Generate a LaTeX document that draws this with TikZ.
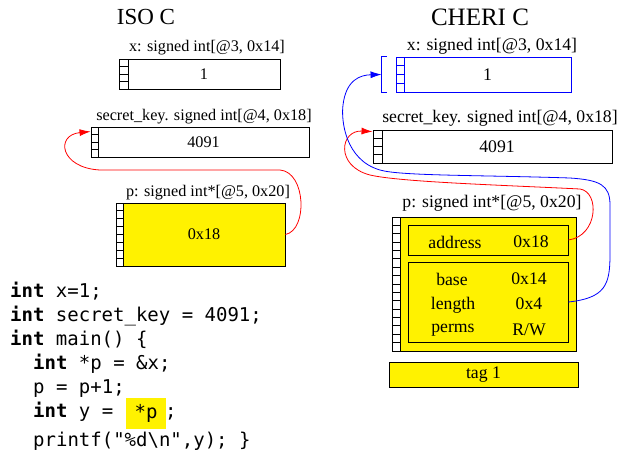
\documentclass[tikz,border=0pt]{standalone}
\usepackage{fontspec}
\setmainfont{Liberation Serif}
\setmonofont{DejaVu Sans Mono}
\usetikzlibrary{arrows.meta}
\newcommand\lblfont{\fontsize{16.2}{19}\selectfont}
\newcommand\lblfontR{\fontsize{17.7}{21}\selectfont}
\newcommand\headfont{\fontsize{23}{27}\selectfont}
\newcommand\headfontR{\fontsize{25}{29}\selectfont}
\newcommand\codefont{\ttfamily\fontsize{19}{23}\selectfont}
\newcommand\memcells[6]{%
  \pgfmathsetmacro\cellh{(#4-#3)/#5}%
  \foreach \i in {1,...,#5}{\draw[#6,fill=white,line width=0.8pt] (#1,{#3+(\i-1)*\cellh}) rectangle (#2,{#3+\i*\cellh});}%
}
\tikzset{
  mem/.style={draw, line width=0.9pt, inner sep=0pt, font=\lblfont},
  memR/.style={mem, font=\lblfontR},
  lbl/.style={font=\lblfont, inner sep=0pt},
  lblR/.style={font=\lblfontR, inner sep=0pt},
  head/.style={font=\headfont, inner sep=0pt},
  code/.style={font=\codefont, inner sep=0pt, anchor=base west},
  hl/.style={fill=yellow, font=\codefont, inner sep=0pt, minimum width=40pt, minimum height=31pt},
  ptr/.style={line width=0.8pt, -{Latex[length=11pt,width=7pt]}},
}
\begin{document}
\begin{tikzpicture}[x=1pt,y=-1pt]
\useasboundingbox (0,0) rectangle (619,453);

% headings
\node[head] (iso) at (146,17) {ISO C};
\node[head, font=\headfontR] (cheri) at (480,17) {CHERI C};

% ---------- ISO C ----------
\node[lbl] (xLl) at (207,48) {x: signed int[@3, 0x14]};
\node[mem, minimum width=161pt, minimum height=30pt] (xL) at (199.5,74) {\hspace*{9pt}1};
\memcells{119}{128}{59}{89}{4}{black}

\node[lbl] (skLl) at (204,117) {secret\_key. signed int[@4, 0x18]};
\node[mem, minimum width=218pt, minimum height=30pt] (skL) at (200,142) {\hspace*{7pt}4091};
\memcells{91}{98}{127}{157}{4}{black}

\node[lbl] (pLl) at (208,193) {p: signed int*[@5, 0x20]};
\node[mem, fill=yellow, minimum width=169pt, minimum height=63pt] (pL) at (200.5,234.5) {\hspace*{7pt}0x18};
\memcells{116}{123}{203}{266}{8}{black}

% ---------- CHERI C ----------
\node[lblR] (xRl) at (492,46) {x: signed int[@3, 0x14]};
\node[memR, draw=blue, minimum width=175pt, minimum height=35pt] (xR) at (483.5,74.5) {\hspace*{8pt}1};
\memcells{396}{404}{57}{92}{4}{blue}
\draw[blue, line width=0.8pt] ([xshift=-9pt]xR.north west) -- ([xshift=-14pt]xR.north west)
  -- ([xshift=-14pt]xR.south west) -- ([xshift=-9pt]xR.south west);

\node[lblR] (skRl) at (500,118) {secret\_key. signed int[@4, 0x18]};
\node[memR, minimum width=239pt, minimum height=33pt] (skR) at (492.5,146.5) {\hspace*{9pt}4091};
\memcells{373}{382}{130}{163}{4}{black}

\node[lblR] (pRl) at (492,203) {p: signed int*[@5, 0x20]};
\node[memR, fill=yellow, minimum width=184pt, minimum height=134pt] (pR) at (484,284) {};
\memcells{392}{400}{217}{351}{16}{black}
\node[memR, minimum width=160pt, minimum height=30pt] (addr) at (488,240) {};
\node[lblR] (addrk) at (455,242) {address};
\node[lblR] (addrv) at (531,242) {0x18};
\node[memR, minimum width=160pt, minimum height=80pt] (meta) at (488,302) {};
\node[lblR] (basek) at (452,279) {base};
\node[lblR] (basev) at (529,279) {0x14};
\node[lblR] (lenk) at (453,305) {length};
\node[lblR] (lenv) at (529,304) {0x4};
\node[lblR] (permk) at (453,330) {perms};
\node[lblR] (permv) at (529,330) {R/W};
\node[memR, fill=yellow, minimum width=189pt, minimum height=25pt] (tag) at (483.5,374.5) {tag 1};

% ---------- arrows ----------
\draw[ptr, red] (pL.east) .. controls (308,230) and (306,172) .. (280,170) -- (100,170)
  .. controls (60,168) and (55,135) .. ([yshift=-5pt]skL.north west);
\draw[ptr, red] (addr.east) .. controls (598,236) and (600,192) .. (580,189)
  .. controls (500,185) and (400,182) .. (370,175)
  .. controls (335,166) and (340,130) .. ([yshift=-2pt]skR.north west);
\draw[ptr, blue] (meta.east) .. controls (605,298) and (610,285) .. (610,255) -- (610,205)
  .. controls (610,185) and (600,180) .. (570,178)
  .. controls (480,175) and (400,176) .. (380,170)
  .. controls (345,160) and (341,120) .. (343,105)
  .. controls (346,80) and (360,75) .. ([xshift=-14pt]xR.west);

% ---------- code ----------
\node[code] (c1) at (10,297) {\textbf{int} x=1;};
\node[code] (c2) at (10,321) {\textbf{int} secret\_key = 4091;};
\node[code] (c3) at (10,345) {\textbf{int} main() \{};
\node[code] (c4) at (33,369) {\textbf{int} *p = \&x;};
\node[code] (c5) at (33,393) {p = p+1;};
\node[code] (c6) at (33,417) {\textbf{int} y =};
\node[hl] (c6b) at (146,413.5) {*p};
\node[code] (c6c) at (165,417) {;};
\node[code] (c7) at (33,446) {printf("\%d\textbackslash n",y); \}};
\end{tikzpicture}
\end{document}
